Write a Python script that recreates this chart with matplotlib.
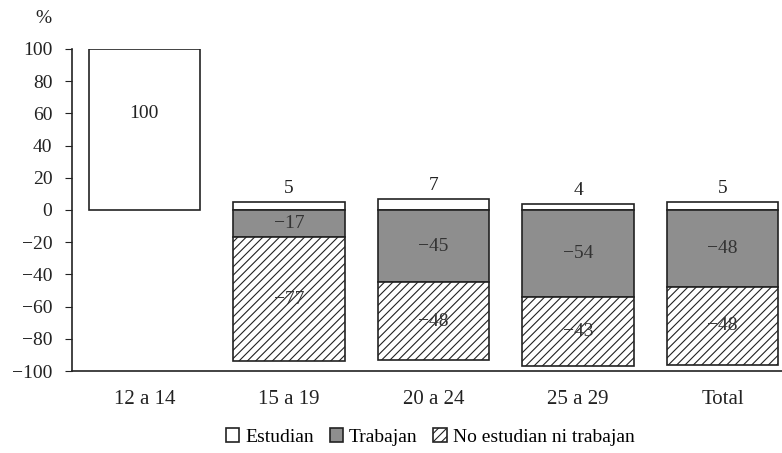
import matplotlib.pyplot as plt
import numpy as np

plt.rcParams['font.family'] = ['Liberation Serif', 'DejaVu Serif']
plt.rcParams['hatch.linewidth'] = 0.8

grupos = ['12 a 14', '15 a 19', '20 a 24', '25 a 29', 'Total']
estudian = [100, 5, 7, 4, 5]
trabajan = [0, -17, -45, -54, -48]
ninis = [0, -77, -48, -43, -48]

x = np.arange(len(grupos))
w = 0.77

fig = plt.figure(figsize=(7.82, 4.53), dpi=100)
ax = fig.add_axes([0.092, 0.181, 0.908, 0.711])

ax.bar(x, estudian, w, color='white', edgecolor='#222222', linewidth=1.2, label='Estudian')
ax.bar(x[1:], trabajan[1:], w, color='#8e8e8e', edgecolor='#222222', linewidth=1.2, label='Trabajan')
ax.bar(x[1:], ninis[1:], w, bottom=trabajan[1:], color='white', edgecolor='#222222',
       hatch='////', linewidth=1.2, label='No estudian ni trabajan')

ax.text(x[0], 60, str(estudian[0]), ha='center', va='center', fontsize=14, color='#222222')
for i in x[1:]:
    ax.text(i, estudian[i] + 3, str(estudian[i]), ha='center', va='bottom', fontsize=14, color='#222222')
    ax.text(i, trabajan[i] / 2, '\u2212' + str(-trabajan[i]), ha='center', va='center',
            fontsize=14, color='#333333')
    ax.text(i, trabajan[i] + ninis[i] / 2, '\u2212' + str(-ninis[i]), ha='center', va='center',
            fontsize=14, color='#333333')

ax.set_xlim(-0.5, 4.41)
ax.set_ylim(-100, 100)
ax.set_yticks(range(-100, 101, 20))
ax.set_yticklabels([str(v).replace('-', '\u2212') for v in range(-100, 101, 20)])
ax.set_xticks(x)
ax.set_xticklabels(grupos)
ax.tick_params(axis='x', length=0, pad=14, labelsize=15, colors='#222222')
ax.tick_params(axis='y', length=5, pad=9, labelsize=14, colors='#222222')
for s in ['top', 'right']:
    ax.spines[s].set_visible(False)
ax.spines['left'].set_color('#222222')
ax.spines['bottom'].set_color('#222222')
ax.spines['left'].set_linewidth(1.2)
ax.spines['bottom'].set_linewidth(1.2)

fig.text(0.055, 0.96, '%', ha='center', va='center', fontsize=14, color='#222222')

fig.legend(loc='center', bbox_to_anchor=(0.55, 0.035), ncol=3, frameon=False, fontsize=14,
           handlelength=0.7, handleheight=0.7, handletextpad=0.3, columnspacing=0.8)

fig.savefig('out.png', dpi=100)
